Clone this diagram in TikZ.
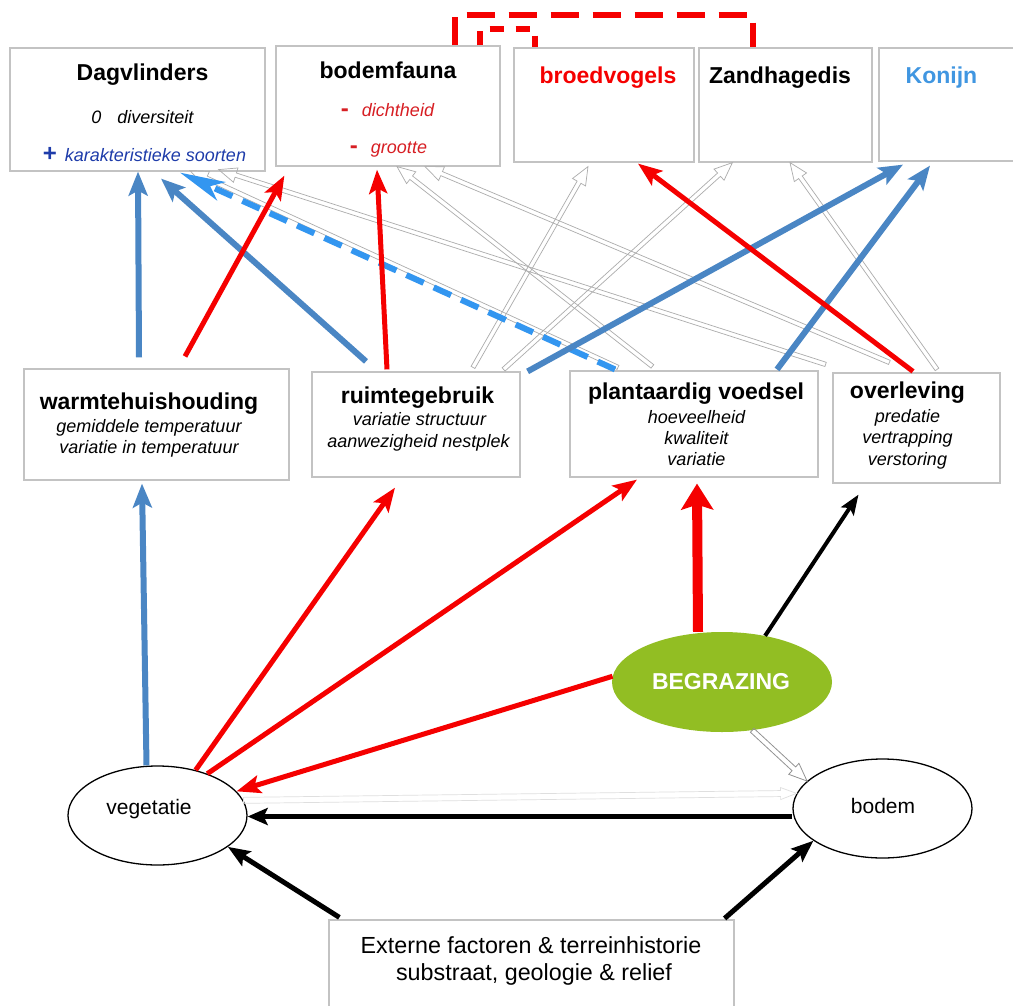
\documentclass[tikz,border=0pt]{standalone}
\usepackage{fontspec}
\setmainfont{Liberation Sans}
\usetikzlibrary{arrows.meta,shapes.geometric,calc}

\definecolor{steel}{RGB}{74,134,196}
\definecolor{skyb}{RGB}{51,150,240}
\definecolor{redc}{RGB}{245,0,0}
\definecolor{redtext}{RGB}{215,30,35}
\definecolor{grass}{RGB}{146,190,35}
\definecolor{boxgray}{RGB}{195,195,195}
\definecolor{konblue}{RGB}{64,150,225}
\definecolor{navy}{RGB}{30,60,170}

% outline ("hollow") block arrow from #2 to #3
\newcommand\hashaft{2.2pt}
\newcommand\hahead{7.5pt}
\newcommand\halen{18pt}
\newcommand\hollowarrow[3][]{%
  \coordinate (ha-s) at (#2);
  \coordinate (ha-e) at (#3);
  \coordinate (ha-b) at ($(ha-e)!\halen!(ha-s)$);
  \draw[hollow,#1] ($(ha-s)!\hashaft!90:(ha-e)$) -- ($(ha-b)!\hashaft!-90:(ha-s)$)
    -- ($(ha-b)!\hahead!-90:(ha-s)$) -- (ha-e) -- ($(ha-b)!\hahead!90:(ha-s)$)
    -- ($(ha-b)!\hashaft!90:(ha-s)$) -- ($(ha-s)!\hashaft!-90:(ha-e)$) -- cycle;
}

\tikzset{
  box/.style={draw=boxgray, line width=1.2pt, rectangle, inner sep=0pt},
  oval/.style={ellipse, draw=black, line width=1.3pt, fill=white, inner sep=0pt},
  ttl/.style={anchor=base, inner sep=0pt, font=\fontsize{23}{27}\selectfont\bfseries},
  subt/.style={anchor=base, inner sep=0pt, font=\fontsize{18}{21}\selectfont\itshape},
  plain/.style={anchor=base, inner sep=0pt, font=\fontsize{21}{25}\selectfont},
  hollow/.style={draw=gray!65, line width=0.7pt, line join=miter},
  steelarrow/.style={draw=steel, line width=6pt, -{Stealth[length=24pt,width=19pt,inset=5pt]}},
  skydash/.style={draw=skyb, line width=6pt, dash pattern=on 19pt off 11pt,
    -{Stealth[length=45pt,width=20pt,inset=12pt]}},
  redarrow/.style={draw=redc, line width=5pt, -{Stealth[length=24pt,width=18pt,inset=5pt]}},
  redthick/.style={draw=redc, line width=10pt, -{Stealth[length=26pt,width=32pt,inset=5pt]}},
  blackarrow/.style={draw=black, line width=4pt, -{Stealth[length=20pt,width=15pt,inset=4pt]}},
  blackbold/.style={draw=black, line width=5pt, -{Stealth[length=22pt,width=17pt,inset=4pt]}},
  blackthick/.style={draw=black, line width=5.5pt, -{Stealth[length=20pt,width=17pt,inset=4pt]}},
  reddash/.style={draw=redc, line width=5.5pt, dash pattern=on 28pt off 14pt},
}

\begin{document}
\begin{tikzpicture}[x=1pt,y=-1pt]
\useasboundingbox (0,0) rectangle (1013,1005);
\fill[white] (0,0) rectangle (1013,1005);

% ---- species boxes (top row)
\node[box, minimum width=255pt, minimum height=123pt] (dag) at (137.5,109.5) {};
\node[box, minimum width=224pt, minimum height=120pt] (bod) at (388,106) {};
\node[box, minimum width=180pt, minimum height=114pt] (brd) at (604,105) {};
\node[box, minimum width=173pt, minimum height=114pt] (zan) at (785.5,105) {};
\node[box, minimum width=136pt, minimum height=113pt] (kon) at (947,104.5) {};

% ---- process boxes (middle row)
\node[box, minimum width=265pt, minimum height=111pt] (warm) at (156.5,424.5) {};
\node[box, minimum width=208pt, minimum height=105pt] (ruim) at (416,424.5) {};
\node[box, minimum width=248pt, minimum height=106pt] (plant) at (694,424) {};
\node[box, minimum width=167pt, minimum height=110pt] (overl) at (916.5,428) {};

% ---- drivers
\node[oval, minimum width=179pt, minimum height=99pt] (veg) at (157.5,815.5) {};
\node[oval, minimum width=179pt, minimum height=99pt] (bodem) at (882.5,808.5) {};
\node[ellipse, fill=grass, inner sep=0pt, minimum width=220pt, minimum height=100pt] (beg) at (722,682) {};
\node[box, minimum width=405pt, minimum height=100pt] (ext) at (531.5,970) {};

% ---- texts
\node[ttl] at (142.5,80) {Dagvlinders};
\node[subt] at (142.5,123) {0\hspace{16pt}diversiteit};
\node[subt, text=navy] at (144.5,161) {{\upshape\bfseries\fontsize{24}{24}\selectfont +}\hspace{8pt}karakteristieke soorten};
\node[ttl] at (388,78) {bodemfauna};
\node[subt, text=redtext] at (387.5,116) {{\upshape\bfseries\fontsize{24}{24}\selectfont -}\hspace{13pt}dichtheid};
\node[subt, text=redtext] at (388.5,153) {{\upshape\bfseries\fontsize{24}{24}\selectfont -}\hspace{13pt}grootte};
\node[ttl, text=redc] at (608,83) {broedvogels};
\node[ttl] at (780,83) {Zandhagedis};
\node[ttl, text=konblue] at (941.5,83) {Konijn};

\node[ttl] at (149,409) {warmtehuishouding};
\node[subt] at (149,432) {gemiddele temperatuur};
\node[subt] at (149,453) {variatie in temperatuur};
\node[ttl] at (417.5,403) {ruimtegebruik};
\node[subt] at (419.5,425) {variatie structuur};
\node[subt] at (418.5,447) {aanwezigheid nestplek};
\node[ttl] at (696,399) {plantaardig voedsel};
\node[subt] at (696.5,423) {hoeveelheid};
\node[subt] at (696.5,444) {kwaliteit};
\node[subt] at (696.5,465) {variatie};
\node[ttl] at (907.5,398) {overleving};
\node[subt] at (907.5,422) {predatie};
\node[subt] at (907.5,443) {vertrapping};
\node[subt] at (907.5,465) {verstoring};

\node[plain] at (149,814) {vegetatie};
\node[plain] at (883,813) {bodem};
\node[ttl, text=white, font=\fontsize{23}{27}\selectfont\bfseries] at (721,689) {BEGRAZING};
\node[plain, font=\fontsize{23.3}{28}\selectfont] at (531,953) {Externe factoren \& terreinhistorie};
\node[plain, font=\fontsize{23.3}{28}\selectfont] at (534,980) {substraat, geologie \& relief};

% ---- outline arrows (weak links)
\hollowarrow{[xshift=-76pt,yshift=3pt]plant.north}{[xshift=52.5pt,yshift=1pt]dag.south}
\hollowarrow{[xshift=7pt,yshift=6pt]plant.north east}{[xshift=-47pt,yshift=2pt]dag.south east}
\hollowarrow{[xshift=83pt,yshift=4pt]plant.north west}{[xshift=9pt]bod.south}
\hollowarrow{[xshift=57pt,yshift=10pt]overl.north west}{[xshift=37pt]bod.south}
\hollowarrow{[xshift=57pt,yshift=4pt]ruim.north}{[xshift=-16pt,yshift=-4pt]brd.south}
\hollowarrow{[xshift=-17pt,yshift=2pt]ruim.north east}{[xshift=34pt]zan.south west}
\hollowarrow{[xshift=20.5pt,yshift=3pt]overl.north}{[xshift=4.5pt]zan.south}
\renewcommand\hashaft{2.6pt}\renewcommand\hahead{7.5pt}\renewcommand\halen{18pt}
\hollowarrow[draw=gray!85, line width=0.8pt]{beg.-58}{bodem.160}
\renewcommand\hashaft{3pt}\renewcommand\hahead{6pt}\renewcommand\halen{16pt}
\hollowarrow[draw=gray!25]{veg.10}{bodem.170}

% ---- dashed link
\draw[skydash] ([xshift=-79pt,yshift=1pt]plant.north) -- ([xshift=42.5pt,yshift=-1pt]dag.south);

% ---- positive links (blue)
\draw[steelarrow] ([xshift=-17.5pt,yshift=11pt]warm.north) -- ([xshift=0.5pt]dag.south);
\draw[steelarrow] ([xshift=-50pt,yshift=10pt]ruim.north) -- ([xshift=23.5pt,yshift=-7pt]dag.south);
\draw[steelarrow] ([xshift=7pt]ruim.north east) -- ([xshift=-44pt,yshift=-3pt]kon.south);
\draw[steelarrow] ([xshift=83pt,yshift=1pt]plant.north) -- ([xshift=-17pt,yshift=-4pt]kon.south);
\draw[steelarrow] ([xshift=-11pt]veg.north) -- ([xshift=-14.5pt,yshift=-3pt]warm.south);

% ---- negative links (red)
\draw[redarrow] ([xshift=28.5pt,yshift=12pt]warm.north) -- ([xshift=9pt,yshift=-9pt]bod.south west);
\draw[redarrow] ([xshift=-29pt,yshift=2pt]ruim.north) -- ([xshift=-11pt,yshift=-3pt]bod.south);
\draw[redarrow] ([xshift=-3.5pt,yshift=1pt]overl.north) -- ([xshift=34pt,yshift=-1pt]brd.south);
\draw[redarrow] (veg.50) -- ([xshift=-21pt,yshift=-10pt]ruim.south);
\draw[redarrow] (veg.40) -- ([xshift=-57pt,yshift=-2pt]plant.south);
\draw[redarrow] (beg.177) -- (veg.17);
\draw[redthick] ([xshift=-24pt]beg.north) -- ([xshift=3pt,yshift=-6pt]plant.south);

% ---- other links (black)
\draw[blackarrow] (beg.47) -- ([xshift=-58pt,yshift=-11pt]overl.south);
\draw[blackthick] ([yshift=-8pt]bodem.west) -- ([yshift=-1pt]veg.east);
\draw[blackbold] ([xshift=11pt,yshift=2pt]ext.north west) -- (veg.-24);
\draw[blackbold] ([xshift=-10pt,yshift=1pt]ext.north east) -- (bodem.205);

% ---- dashed links between species
\coordinate (lineA) at (0,15);
\coordinate (lineB) at (0,29);
\coordinate (d1) at ([xshift=67pt]bod.north);
\coordinate (d2) at ([xshift=-32.5pt]zan.north);
\coordinate (d3) at ([xshift=92pt]bod.north);
\coordinate (d4) at ([xshift=-69pt]brd.north);
\draw[reddash] (d1) -- (d1 |- lineA) -- (d2 |- lineA) -- (d2);
\draw[reddash, dash pattern=on 14pt off 12pt] (d3) -- (d3 |- lineB) -- (d4 |- lineB) -- (d4);
\end{tikzpicture}
\end{document}
